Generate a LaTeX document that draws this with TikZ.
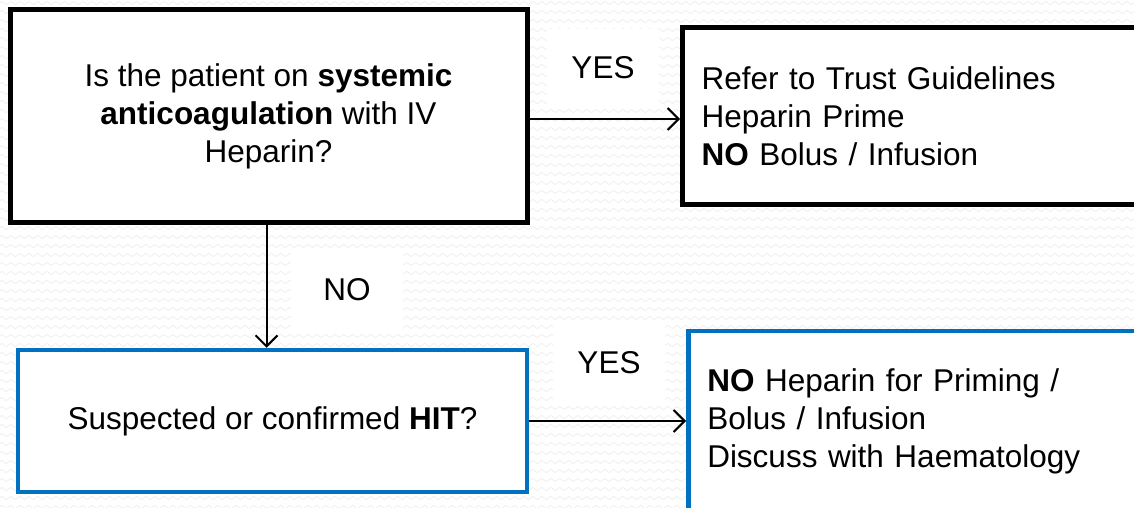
\documentclass[tikz,border=0pt]{standalone}
\usepackage{fontspec}
\setmainfont{Liberation Sans}
\usetikzlibrary{arrows.meta,decorations.pathmorphing}
\definecolor{boxblue}{RGB}{0,112,192}
\definecolor{wavegray}{RGB}{238,238,238}
\tikzset{
  qbox/.style={draw=black, line width=5pt, fill=white, inner sep=0pt, align=center,
    font=\fontsize{31.5}{38}\selectfont},
  bluebox/.style={qbox, draw=boxblue, line width=4.5pt},
  abox/.style={qbox, align=left, inner xsep=19pt, text width=#1},
  ablue/.style={abox=#1, draw=boxblue, line width=4.5pt},
  lbl/.style={fill=white, minimum width=112pt, minimum height=77pt, inner sep=0pt,
    font=\fontsize{31.5}{38}\selectfont},
  conn/.style={draw=black, line width=2pt, -{Straight Barb[length=11pt,width=22pt,line width=2pt]}},
}
\begin{document}
\begin{tikzpicture}[x=1pt,y=-1pt]
\useasboundingbox (0,0) rectangle (1134,508);
\clip (0,0) rectangle (1134,508);
\fill[white] (0,0) rectangle (1134,508);
\foreach \yy in {3,12,...,512}{
  \draw[wavegray, line width=0.7pt, decorate, decoration={snake, segment length=9pt, amplitude=1.6pt}] (-10,\yy) -- (1150,\yy);
}
% labels
\node[lbl] (yes1) at (603,68) {YES};
\node[lbl] (no1) at (347,290) {NO};
\node[lbl] (yes2) at (609,363) {YES};
% boxes
\node[qbox, minimum width=517pt, minimum height=212pt] (q1) at (268.5,116)
  {Is the patient on \textbf{systemic}\\\textbf{anticoagulation} with IV\\Heparin?};
\node[abox=440pt, anchor=west, minimum height=176pt] (a1) at (680,116)
  {Refer to Trust Guidelines\\Heparin Prime\\\textbf{NO} Bolus / Infusion};
\node[bluebox, minimum width=509pt, minimum height=142pt] (q2) at (272.5,421)
  {Suspected or confirmed \textbf{HIT}?};
\node[ablue=440pt, anchor=west, minimum height=180pt] (a2) at (686,421)
  {\textbf{NO} Heparin for Priming /\\Bolus / Infusion\\Discuss with Haematology};
% connectors
\draw[conn] ([yshift=-3pt]q1.east) -- ([yshift=-3pt]a1.west);
\draw[conn] ([xshift=-2pt]q1.south) -- ([xshift=-2pt]q1.south |- q2.north);
\draw[conn] (q2.east) -- (a2.west);
\end{tikzpicture}
\end{document}
